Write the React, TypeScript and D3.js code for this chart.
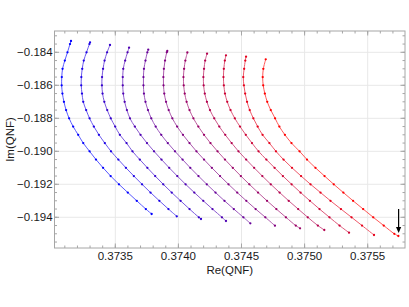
import React from 'react';
import * as d3 from 'd3';

// readings from the picture: [Re, Im]
const curve1: [number, number][] = [
  [0.373149, -0.183315], [0.373141, -0.1835], [0.373121, -0.184], [0.3731, -0.1845], [0.373082, -0.185],
  [0.373076, -0.1855], [0.373075, -0.186], [0.373081, -0.1865], [0.373093, -0.187], [0.37311, -0.1875],
  [0.373134, -0.188], [0.373166, -0.1885], [0.373206, -0.189], [0.373246, -0.1895], [0.373296, -0.19],
  [0.373347, -0.1905], [0.373403, -0.191], [0.373463, -0.1915], [0.373529, -0.192], [0.373599, -0.1925],
  [0.37367, -0.193], [0.373742, -0.1935], [0.373788, -0.1938],
];
const curve2: [number, number][] = [
  [0.3733, -0.183394], [0.373295, -0.1835], [0.373272, -0.184], [0.37325, -0.1845], [0.373238, -0.185],
  [0.373231, -0.1855], [0.37323, -0.186], [0.373236, -0.1865], [0.373246, -0.187], [0.373269, -0.1875],
  [0.373296, -0.188], [0.37333, -0.1885], [0.37337, -0.189], [0.373417, -0.1895], [0.373466, -0.19],
  [0.373524, -0.1905], [0.373584, -0.191], [0.373647, -0.1915], [0.373712, -0.192], [0.373779, -0.1925],
  [0.373849, -0.193], [0.373921, -0.1935], [0.373987, -0.193939],
];
const curve3: [number, number][] = [
  [0.373458, -0.183558], [0.373435, -0.184], [0.373415, -0.1845], [0.373403, -0.185], [0.373395, -0.1855],
  [0.373394, -0.186], [0.373399, -0.1865], [0.373413, -0.187], [0.373436, -0.1875], [0.373464, -0.188],
  [0.373499, -0.1885], [0.373536, -0.189], [0.373589, -0.1895], [0.373636, -0.19], [0.373694, -0.1905],
  [0.373754, -0.191], [0.373816, -0.1915], [0.37388, -0.192], [0.373947, -0.1925], [0.374017, -0.193],
  [0.374088, -0.1935], [0.374162, -0.194], [0.374179, -0.194103],
];
const curve4: [number, number][] = [
  [0.373609, -0.183721], [0.373597, -0.184], [0.373578, -0.1845], [0.373563, -0.185], [0.373559, -0.1855],
  [0.373559, -0.186], [0.373563, -0.1865], [0.373574, -0.187], [0.373592, -0.1875], [0.373616, -0.188],
  [0.373655, -0.1885], [0.3737, -0.189], [0.373751, -0.1895], [0.373807, -0.19], [0.373866, -0.1905],
  [0.373927, -0.191], [0.373991, -0.1915], [0.374057, -0.192], [0.374126, -0.1925], [0.374197, -0.193],
  [0.37427, -0.1935], [0.374345, -0.194], [0.374377, -0.194224],
];
const curve5: [number, number][] = [
  [0.373761, -0.183842], [0.373754, -0.184], [0.373739, -0.1845], [0.373727, -0.185], [0.373723, -0.1855],
  [0.373723, -0.186], [0.373727, -0.1865], [0.373739, -0.187], [0.373759, -0.1875], [0.373785, -0.188],
  [0.37382, -0.1885], [0.373864, -0.189], [0.373916, -0.1895], [0.373973, -0.19], [0.374033, -0.1905],
  [0.374094, -0.191], [0.374159, -0.1915], [0.374225, -0.192], [0.374294, -0.1925], [0.374365, -0.193],
  [0.374439, -0.1935], [0.374515, -0.194], [0.37457, -0.194364],
];
const curve6: [number, number][] = [
  [0.373912, -0.183921], [0.373908, -0.184], [0.373894, -0.1845], [0.373885, -0.185], [0.373881, -0.1855],
  [0.373882, -0.186], [0.373888, -0.1865], [0.373902, -0.187], [0.373923, -0.1875], [0.373952, -0.188],
  [0.37399, -0.1885], [0.374036, -0.189], [0.374088, -0.1895], [0.374143, -0.19], [0.374203, -0.1905],
  [0.374265, -0.191], [0.37433, -0.1915], [0.374397, -0.192], [0.374466, -0.1925], [0.374538, -0.193],
  [0.374612, -0.1935], [0.374689, -0.194], [0.374765, -0.194509],
];
const curve7: [number, number][] = [
  [0.374071, -0.184012], [0.374055, -0.1845], [0.374045, -0.185], [0.37404, -0.1855], [0.374042, -0.186],
  [0.37405, -0.1865], [0.374065, -0.187], [0.374088, -0.1875], [0.374119, -0.188], [0.374158, -0.1885],
  [0.374203, -0.189], [0.374254, -0.1895], [0.37431, -0.19], [0.374369, -0.1905], [0.374431, -0.191],
  [0.374495, -0.1915], [0.374562, -0.192], [0.374631, -0.1925], [0.374702, -0.193], [0.374776, -0.1935],
  [0.374852, -0.194], [0.37493, -0.1945], [0.374964, -0.194667],
];
const curve8: [number, number][] = [
  [0.374227, -0.184085], [0.374212, -0.1845], [0.374203, -0.185], [0.374198, -0.1855], [0.3742, -0.186],
  [0.374209, -0.1865], [0.374226, -0.187], [0.37425, -0.1875], [0.374284, -0.188], [0.374324, -0.1885],
  [0.374371, -0.189], [0.374422, -0.1895], [0.374476, -0.19], [0.374537, -0.1905], [0.3746, -0.191],
  [0.374665, -0.1915], [0.374732, -0.192], [0.374802, -0.1925], [0.374874, -0.193], [0.374949, -0.1935],
  [0.375025, -0.194], [0.375105, -0.1945], [0.375156, -0.19477],
];
const curve9: [number, number][] = [
  [0.374377, -0.184182], [0.374368, -0.1845], [0.37436, -0.185], [0.374357, -0.1855], [0.37436, -0.186],
  [0.374369, -0.1865], [0.374387, -0.187], [0.374413, -0.1875], [0.374447, -0.188], [0.374488, -0.1885],
  [0.374534, -0.189], [0.374583, -0.1895], [0.374635, -0.19], [0.374697, -0.1905], [0.374762, -0.191],
  [0.374828, -0.1915], [0.374897, -0.192], [0.374968, -0.1925], [0.375042, -0.193], [0.375118, -0.1935],
  [0.375197, -0.194], [0.375277, -0.1945], [0.375352, -0.194933],
];
const curve10: [number, number][] = [
  [0.374536, -0.184267], [0.37453, -0.1845], [0.374521, -0.185], [0.374514, -0.1855], [0.374519, -0.186],
  [0.374529, -0.1865], [0.374544, -0.187], [0.374565, -0.1875], [0.374594, -0.188], [0.374628, -0.1885],
  [0.374667, -0.189], [0.374721, -0.1895], [0.374773, -0.19], [0.374833, -0.1905], [0.3749, -0.191],
  [0.374972, -0.1915], [0.375047, -0.192], [0.375126, -0.1925], [0.375205, -0.193], [0.375288, -0.1935],
  [0.375372, -0.194], [0.375455, -0.1945], [0.37555, -0.195073],
];
const curve11: [number, number][] = [
  [0.374692, -0.184424], [0.374673, -0.185], [0.374668, -0.1855], [0.374672, -0.186], [0.374685, -0.1865],
  [0.374704, -0.187], [0.374732, -0.1875], [0.374766, -0.188], [0.3748, -0.1885], [0.374844, -0.189],
  [0.374896, -0.1895], [0.37496, -0.19], [0.375019, -0.1905], [0.375086, -0.191], [0.375158, -0.1915],
  [0.375231, -0.192], [0.375307, -0.1925], [0.375384, -0.193], [0.375464, -0.1935], [0.375544, -0.194],
  [0.375627, -0.1945], [0.375711, -0.195], [0.375743, -0.195133],
];
const curves = [curve1, curve2, curve3, curve4, curve5, curve6, curve7, curve8, curve9, curve10, curve11];

const xTicks = [0.3735, 0.374, 0.3745, 0.375, 0.3755];
const yTicks = [-0.184, -0.186, -0.188, -0.19, -0.192, -0.194];
const xMinor = d3.range(0.3731, 0.37576, 0.0001);
const yMinor = d3.range(-0.183, -0.1958, -0.0005);
const arrowFrom: [number, number] = [0.375745, -0.1935];
const arrowTo: [number, number] = [0.375745, -0.19495];

const W = 409;
const H = 307;
const left = 54.5, right = 405, top = 31, bottom = 248;

const x = d3.scaleLinear().domain([0.3730182, 0.3757956]).range([left, right]);
const y = d3.scaleLinear().domain([-0.182709, -0.195861]).range([top, bottom]);
const colour = d3.interpolateRgb('rgb(0,0,255)', 'rgb(255,0,0)');
const fx = d3.format('.4f');
const fy = d3.format('.3f');

const line = d3.line<[number, number]>()
  .x((d) => x(d[0]))
  .y((d) => y(d[1]))
  .curve(d3.curveCatmullRom.alpha(0.5));

const frame = '#a6a6a6';
const font = '"Liberation Sans", Arial, Helvetica, sans-serif';

const App: React.FC = () => {
  const ax = x(arrowFrom[0]);
  const ay0 = y(arrowFrom[1]);
  const ay1 = y(arrowTo[1]);
  return (
    <div style={{ position: 'absolute', left: 0, top: 0 }}>
      <svg width={W} height={H} style={{ display: 'block', background: '#fff' }}>
        {/* grid */}
        {xTicks.map((t) => (
          <line key={'gx' + t} x1={x(t)} x2={x(t)} y1={top} y2={bottom} stroke="#e8e8e8" strokeWidth={1} />
        ))}
        {yTicks.map((t) => (
          <line key={'gy' + t} x1={left} x2={right} y1={y(t)} y2={y(t)} stroke="#e8e8e8" strokeWidth={1} />
        ))}

        {/* curves */}
        {curves.map((c, i) => {
          const col = colour(i / (curves.length - 1));
          const light = d3.interpolateRgb(col, '#ffffff')(0.35);
          return (
            <g key={'c' + i}>
              <path d={line(c) || ''} fill="none" stroke={light} strokeWidth={1} />
              {c.map((d, j) => (
                <circle key={j} cx={x(d[0])} cy={y(d[1])} r={1.15} fill={col} />
              ))}
            </g>
          );
        })}

        {/* frame + ticks */}
        <rect x={left} y={top} width={right - left} height={bottom - top} fill="none" stroke={frame} strokeWidth={1} />
        {xMinor.map((t, i) => (
          <g key={'xm' + i}>
            <line x1={x(t)} x2={x(t)} y1={bottom} y2={bottom - 2.5} stroke={frame} />
            <line x1={x(t)} x2={x(t)} y1={top} y2={top + 2.5} stroke={frame} />
          </g>
        ))}
        {yMinor.map((t, i) => (
          <g key={'ym' + i}>
            <line x1={left} x2={left + 2.5} y1={y(t)} y2={y(t)} stroke={frame} />
            <line x1={right} x2={right - 2.5} y1={y(t)} y2={y(t)} stroke={frame} />
          </g>
        ))}
        {xTicks.map((t) => (
          <g key={'xt' + t}>
            <line x1={x(t)} x2={x(t)} y1={bottom} y2={bottom - 4.5} stroke={frame} />
            <line x1={x(t)} x2={x(t)} y1={top} y2={top + 4.5} stroke={frame} />
            <text x={x(t)} y={259.8} textAnchor="middle" fontFamily={font} fontSize={11.5} fill="#1a1a1a">
              {fx(t)}
            </text>
          </g>
        ))}
        {yTicks.map((t) => (
          <g key={'yt' + t}>
            <line x1={left} x2={left + 4.5} y1={y(t)} y2={y(t)} stroke={frame} />
            <line x1={right} x2={right - 4.5} y1={y(t)} y2={y(t)} stroke={frame} />
            <text x={52.6} y={y(t) + 4.1} textAnchor="end" fontFamily={font} fontSize={11.5} fill="#1a1a1a">
              {fy(t)}
            </text>
          </g>
        ))}

        {/* axis titles */}
        <text x={(left + right) / 2} y={273.5} textAnchor="middle" fontFamily={font} fontSize={11.5} fill="#1a1a1a">
          Re(QNF)
        </text>
        <text
          transform={`translate(14,${(top + bottom) / 2}) rotate(-90)`}
          textAnchor="middle"
          fontFamily={font}
          fontSize={11.5}
          fill="#1a1a1a"
        >
          Im(QNF)
        </text>

        {/* arrow */}
        <line x1={ax} x2={ax} y1={ay0} y2={ay1 - 5} stroke="#000" strokeWidth={1.2} />
        <path d={`M${ax - 2.6},${ay1 - 6} L${ax + 2.6},${ay1 - 6} L${ax},${ay1} Z`} fill="#000" />
      </svg>
    </div>
  );
};

export default App;
